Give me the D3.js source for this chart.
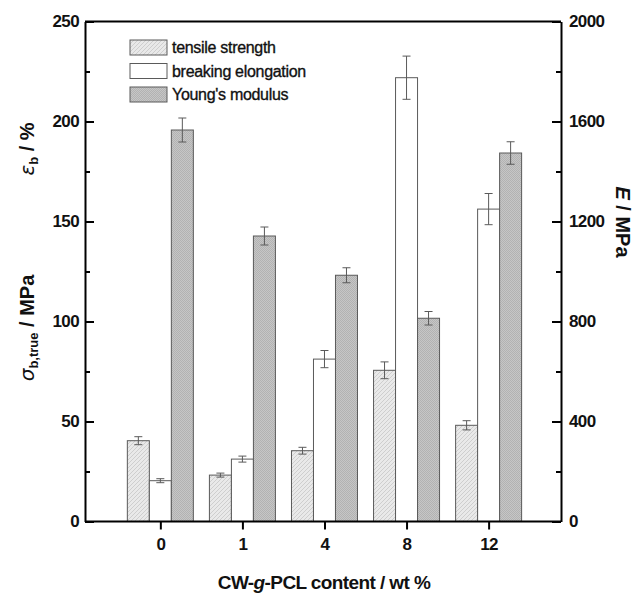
<!DOCTYPE html>
<html>
<head>
<meta charset="utf-8">
<script src="https://cdn.jsdelivr.net/npm/d3@7"></script>
<style>
  html, body { margin: 0; padding: 0; background: #fff; }
  svg { display: block; font-family: "Liberation Sans", Arial, sans-serif; }
</style>
</head>
<body>
<svg id="chart" width="638" height="594"></svg>
<script>
// CW-g-PCL content (wt %)
const categories = ["0", "1", "4", "8", "12"];
const seriesNames = ["tensile strength", "breaking elongation", "Young's modulus"];

// tensile strength σb,true (MPa) – left axis
const tensileStrength = [40.4, 23.2, 35.4, 75.6, 48.1];
const tensileErr      = [2.0, 1.0, 1.7, 4.2, 2.3];
// breaking elongation εb (%) – left axis
const breakingElongation = [20.4, 31.2, 81.2, 221.9, 156.2];
const elongationErr      = [1.0, 1.5, 4.3, 10.8, 7.8];
// Young's modulus E (MPa) – right axis
const youngsModulus = [1566, 1142, 985, 813, 1474];
const youngsErr     = [48, 36, 30, 27, 45];

const leftTicks  = [0, 50, 100, 150, 200, 250];
const leftMinor  = [25, 75, 125, 175, 225];
const rightTicks = [0, 400, 800, 1200, 1600, 2000];
const rightMinor = [200, 600, 1000, 1400, 1800];

const svg = d3.select("#chart");
const plot = { left: 85, right: 561, top: 21.5, bottom: 521.5 };

const defs = svg.append("defs");
// diagonal hatch texture for tensile strength
const hatch = defs.append("pattern")
  .attr("id", "hatch").attr("patternUnits", "userSpaceOnUse")
  .attr("width", 4).attr("height", 4);
hatch.append("path").attr("d", "M-1,1 l2,-2 M0,4 l4,-4 M3,5 l2,-2")
  .attr("stroke", "#a8a8a8").attr("stroke-width", 0.7);
// fine dot texture for Young's modulus
const checker = defs.append("pattern")
  .attr("id", "checker").attr("patternUnits", "userSpaceOnUse")
  .attr("width", 2).attr("height", 2);
checker.append("rect").attr("width", 1).attr("height", 1).attr("fill", "#8c8c8c");
checker.append("rect").attr("x", 1).attr("y", 1).attr("width", 1).attr("height", 1).attr("fill", "#8c8c8c");

const baseFills = ["#e9e9e9", "#ffffff", "#c6c6c6"];
const textures = ["url(#hatch)", null, "url(#checker)"];
const textureOpacity = [0.6, 0, 0.35];

const x = d3.scalePoint().domain(categories).range([plot.left, plot.right]).padding(0.9).align(0.51);
const sub = d3.scaleBand().domain(seriesNames).range([-33, 33]).padding(0);
const yL = d3.scaleLinear().domain([0, 250]).range([plot.bottom, plot.top]);
const yR = d3.scaleLinear().domain([0, 2000]).range([plot.bottom, plot.top]);

const series = [
  { name: seriesNames[0], values: tensileStrength, err: tensileErr, y: yL, k: 0 },
  { name: seriesNames[1], values: breakingElongation, err: elongationErr, y: yL, k: 1 },
  { name: seriesNames[2], values: youngsModulus, err: youngsErr, y: yR, k: 2 }
];

// filled box with optional texture overlay and outline
function texturedRect(g, k, xx, yy, w, h) {
  g.append("rect").attr("x", xx).attr("y", yy).attr("width", w).attr("height", h)
    .attr("fill", baseFills[k]);
  if (textures[k]) {
    g.append("rect").attr("x", xx).attr("y", yy).attr("width", w).attr("height", h)
      .attr("fill", textures[k]).attr("fill-opacity", textureOpacity[k]);
  }
  g.append("rect").attr("x", xx).attr("y", yy).attr("width", w).attr("height", h)
    .attr("fill", "none").attr("stroke", "#5a5a5a").attr("stroke-width", 1);
}

// bars
series.forEach(s => {
  const g = svg.append("g");
  categories.forEach((c, i) => {
    texturedRect(g, s.k, x(c) + sub(s.name), s.y(s.values[i]),
      sub.bandwidth(), s.y(0) - s.y(s.values[i]));
  });
});

// error bars
series.forEach(s => {
  const g = svg.append("g").attr("stroke", "#5a5a5a").attr("stroke-width", 1).attr("fill", "none");
  categories.forEach((c, i) => {
    const cx = x(c) + sub(s.name) + sub.bandwidth() / 2;
    const y1 = s.y(s.values[i] + s.err[i]), y0 = s.y(s.values[i] - s.err[i]);
    g.append("line").attr("x1", cx).attr("x2", cx).attr("y1", y1).attr("y2", y0);
    g.append("line").attr("x1", cx - 4).attr("x2", cx + 4).attr("y1", y1).attr("y2", y1);
    g.append("line").attr("x1", cx - 4).attr("x2", cx + 4).attr("y1", y0).attr("y2", y0);
  });
});

const tickFont = g => g.selectAll("text")
  .attr("font-size", 17).attr("font-weight", "bold").attr("fill", "#111")
  .attr("letter-spacing", "-0.6px");

// left axis
svg.append("g").attr("transform", `translate(${plot.left},0)`)
  .call(d3.axisLeft(yL).tickValues(leftTicks).tickSizeInner(-9).tickSizeOuter(0).tickPadding(6))
  .call(g => g.select(".domain").attr("stroke-width", 2))
  .call(g => g.selectAll(".tick line").attr("stroke-width", 2))
  .call(tickFont);
svg.append("g").attr("transform", `translate(${plot.left},0)`)
  .call(d3.axisLeft(yL).tickValues(leftMinor).tickSizeInner(-5).tickSizeOuter(0).tickFormat(""))
  .call(g => g.select(".domain").remove())
  .call(g => g.selectAll(".tick line").attr("stroke-width", 2));

// right axis
svg.append("g").attr("transform", `translate(${plot.right},0)`)
  .call(d3.axisRight(yR).tickValues(rightTicks).tickFormat(d3.format("d"))
    .tickSizeInner(-9).tickSizeOuter(0).tickPadding(8))
  .call(g => g.select(".domain").attr("stroke-width", 2))
  .call(g => g.selectAll(".tick line").attr("stroke-width", 2))
  .call(tickFont);
svg.append("g").attr("transform", `translate(${plot.right},0)`)
  .call(d3.axisRight(yR).tickValues(rightMinor).tickSizeInner(-5).tickSizeOuter(0).tickFormat(""))
  .call(g => g.select(".domain").remove())
  .call(g => g.selectAll(".tick line").attr("stroke-width", 2));

// bottom axis
svg.append("g").attr("transform", `translate(0,${plot.bottom})`)
  .call(d3.axisBottom(x).tickSizeInner(8).tickSizeOuter(0).tickPadding(8))
  .call(g => g.select(".domain").attr("d", `M${plot.left},0H${plot.right}`).attr("stroke-width", 2))
  .call(g => g.selectAll(".tick line").attr("stroke-width", 2))
  .call(tickFont);

// top frame line
svg.append("line").attr("x1", plot.left).attr("x2", plot.right)
  .attr("y1", plot.top).attr("y2", plot.top)
  .attr("stroke", "#000").attr("stroke-width", 2);

// axis titles
const title = svg.append("g").attr("font-weight", "bold").attr("fill", "#111");

const xt = title.append("text").attr("x", 324).attr("y", 589)
  .attr("text-anchor", "middle").attr("font-size", 19).attr("letter-spacing", "-0.6px");
xt.append("tspan").text("CW-");
xt.append("tspan").attr("font-style", "italic").text("g");
xt.append("tspan").text("-PCL content / wt %");

const et = title.append("text").attr("transform", "translate(34,149) rotate(-90)")
  .attr("text-anchor", "middle").attr("font-size", 20);
et.append("tspan").attr("font-style", "italic").attr("font-family", "DejaVu Sans").attr("font-weight", "normal").text("ε");
et.append("tspan").attr("font-size", 13).attr("dy", 4).text("b");
et.append("tspan").attr("dy", -4).text(" / %");

const st = title.append("text").attr("transform", "translate(34,328) rotate(-90)")
  .attr("text-anchor", "middle").attr("font-size", 20);
st.append("tspan").attr("font-style", "italic").attr("font-family", "DejaVu Sans").attr("font-weight", "normal").text("σ");
st.append("tspan").attr("font-size", 13).attr("dy", 4).text("b,true");
st.append("tspan").attr("dy", -4).text(" / MPa");

const rt = title.append("text").attr("transform", "translate(616,222) rotate(90)")
  .attr("text-anchor", "middle").attr("font-size", 20);
rt.append("tspan").attr("font-style", "italic").text("E");
rt.append("tspan").text(" / MPa");

// legend
const legend = svg.append("g").attr("transform", "translate(130,40)");
seriesNames.forEach((n, i) => {
  const row = legend.append("g").attr("transform", `translate(0,${i * 23.5})`);
  texturedRect(row, i, 0, 0, 37, 15);
  row.append("text").attr("x", 42).attr("y", 13).attr("font-size", 16)
    .attr("fill", "#111").attr("stroke", "#111").attr("stroke-width", 0.35)
    .attr("letter-spacing", "-0.3px").text(n);
});
</script>
</body>
</html>
